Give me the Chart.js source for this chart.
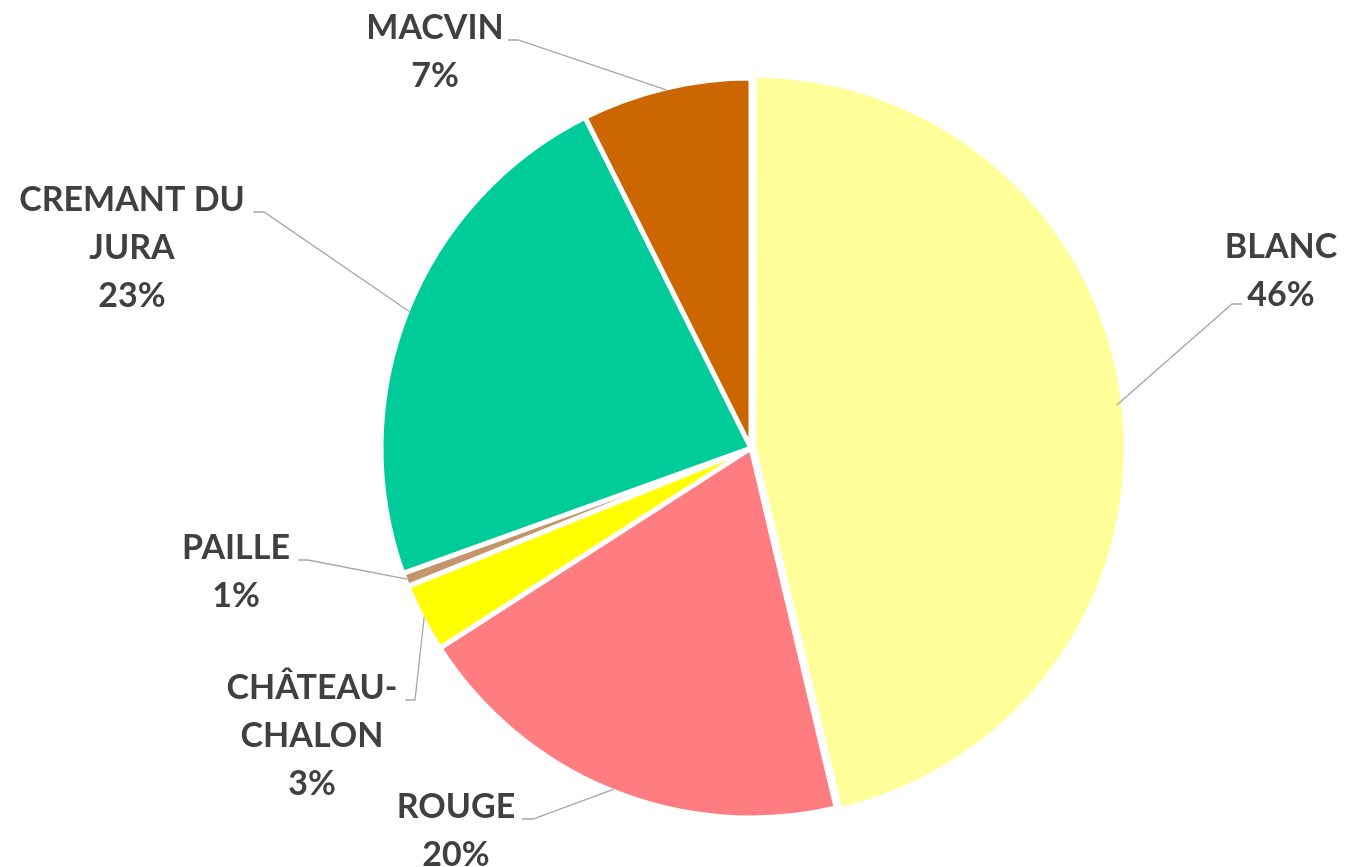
<!doctype html>
<html lang="fr">
<head>
<meta charset="utf-8">
<title>Répartition des vins du Jura</title>
<script src="https://cdn.jsdelivr.net/npm/chart.js@4.4.1/dist/chart.umd.min.js"></script>
<style>
  html, body { margin: 0; padding: 0; background: #fff; }
  #wrap { width: 1345px; height: 867px; }
</style>
</head>
<body>
<div id="wrap"><canvas id="pie" width="1345" height="867"></canvas></div>
<script>
// data (share of volume, %)
var categories = ['BLANC', 'ROUGE', 'CHÂTEAU-CHALON', 'PAILLE', 'CREMANT DU JURA', 'MACVIN'];
var shares = [46.3, 19.6, 3.0, 0.6, 23.1, 7.4];
var colours = ['#FFFF99', '#FF7C80', '#FFFF00', '#C4956A', '#00CC99', '#CC6600'];

// where each outside label sits: centre of first text line, and where its leader starts / bends
var labelSpots = [
  { cx: 1281, cy: 247, start: [1242, 304], bend: [1232, 304] },
  { cx: 456,  cy: 807, start: [522, 819],  bend: [533, 819] },
  { cx: 312,  cy: 688, start: [405, 700],  bend: [415, 700] },
  { cx: 236,  cy: 548, start: [298, 560],  bend: [308, 560] },
  { cx: 132,  cy: 200, start: [253, 212],  bend: [264, 212] },
  { cx: 435,  cy: 28,  start: [508, 40],   bend: [518, 40] }
];

var labelFont = 'bold 34px Lato, "Open Sans", sans-serif';
var lineGap = 48;

function wrapText(ctx, text, maxW) {
  if (ctx.measureText(text).width <= maxW) return [text];
  var parts = text.split(/(?<=-)|\s+/);
  var lines = [], cur = '';
  parts.forEach(function (p) {
    var joiner = (cur === '' || cur.slice(-1) === '-') ? '' : ' ';
    var test = cur + joiner + p;
    if (cur !== '' && ctx.measureText(test).width > maxW) {
      lines.push(cur);
      cur = p;
    } else {
      cur = test;
    }
  });
  if (cur) lines.push(cur);
  return lines;
}

var outsideLabels = {
  id: 'outsideLabels',
  afterDatasetsDraw: function (chart) {
    var ctx = chart.ctx;
    var meta = chart.getDatasetMeta(0);
    var data = chart.data.datasets[0].data;
    var total = data.reduce(function (a, b) { return a + b; }, 0);
    ctx.save();
    meta.data.forEach(function (arc, i) {
      var spot = labelSpots[i];
      var p = arc.getProps(['x', 'y', 'startAngle', 'endAngle', 'outerRadius'], true);
      var mid = (p.startAngle + p.endAngle) / 2;
      var ex = p.x + Math.cos(mid) * (p.outerRadius - 2);
      var ey = p.y + Math.sin(mid) * (p.outerRadius - 2);

      ctx.strokeStyle = '#A6A6A6';
      ctx.lineWidth = 1.3;
      ctx.beginPath();
      ctx.moveTo(spot.start[0], spot.start[1]);
      ctx.lineTo(spot.bend[0], spot.bend[1]);
      ctx.lineTo(ex, ey);
      ctx.stroke();

      ctx.font = labelFont;
      ctx.fillStyle = '#404040';
      ctx.textAlign = 'center';
      ctx.textBaseline = 'middle';
      var lines = wrapText(ctx, chart.data.labels[i], 260);
      lines.push(Math.round(data[i] / total * 100) + '%');
      lines.forEach(function (ln, k) {
        ctx.fillText(ln, spot.cx, spot.cy + k * lineGap);
      });
    });
    ctx.restore();
  }
};

new Chart(document.getElementById('pie'), {
  type: 'pie',
  data: {
    labels: categories,
    datasets: [{
      data: shares,
      backgroundColor: colours,
      borderColor: '#ffffff',
      borderWidth: 5,
      offset: [12, 0, 0, 0, 0, 0],
      radius: 370
    }]
  },
  options: {
    responsive: false,
    devicePixelRatio: 1,
    animation: false,
    layout: { padding: { left: 157, right: 0, top: 29, bottom: 0 } },
    plugins: {
      legend: { display: false },
      tooltip: { enabled: false }
    }
  },
  plugins: [outsideLabels]
});
</script>
</body>
</html>
